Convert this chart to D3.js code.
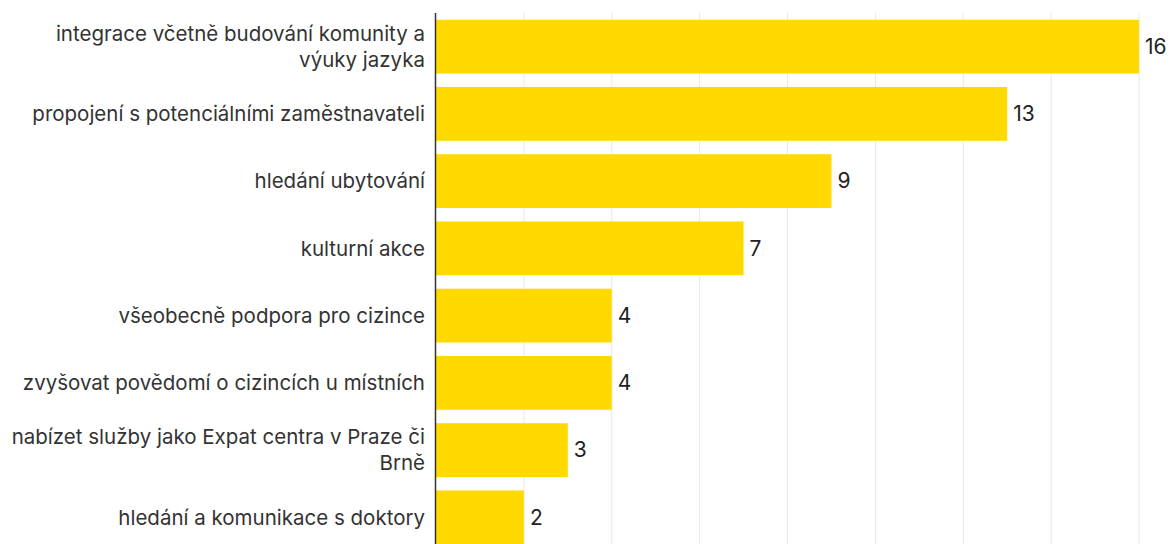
<!DOCTYPE html>
<html>
<head>
<meta charset="utf-8">
<script src="https://cdn.jsdelivr.net/npm/d3@7"></script>
<style>
  body { margin: 0; background: #fff; }
  #chart { display: block; }
  .label { font-family: Inter, sans-serif; font-size: 20.5px; fill: #333; }
  .val { font-family: Inter, sans-serif; font-size: 21px; fill: #222; }
</style>
</head>
<body>
<svg id="chart" width="1173" height="544"></svg>
<script>
var categories = [
  "integrace včetně budování komunity a výuky jazyka",
  "propojení s potenciálními zaměstnavateli",
  "hledání ubytování",
  "kulturní akce",
  "všeobecně podpora pro cizince",
  "zvyšovat povědomí o cizincích u místních",
  "nabízet služby jako Expat centra v Praze či Brně",
  "hledání a komunikace s doktory"
];
var values = [16, 13, 9, 7, 4, 4, 3, 2];
var gridTicks = [2, 4, 6, 8, 10, 12, 14, 16];

var svg = d3.select("#chart"),
    margin = {top: 13, right: 34, bottom: -7, left: 436},
    width = 1173 - margin.left - margin.right,
    height = 544 - margin.top - margin.bottom,
    g = svg.append("g").attr("transform", "translate(" + margin.left + "," + margin.top + ")");

var xScale = d3.scaleLinear().domain([0, 16]).range([0, width]);
var yScale = d3.scaleBand().domain(categories).range([0, height])
    .paddingInner(0.2).paddingOuter(0.1);

// grid lines
g.append("g").selectAll("line")
  .data(gridTicks)
  .enter().append("line")
    .attr("x1", function(d) { return xScale(d); })
    .attr("x2", function(d) { return xScale(d); })
    .attr("y1", 0)
    .attr("y2", height)
    .attr("stroke", "#e8e8e8")
    .attr("stroke-width", 1);

// bars
g.selectAll(".bar")
  .data(values)
  .enter().append("rect")
    .attr("class", "bar")
    .attr("x", xScale(0))
    .attr("y", function(d, i) { return yScale(categories[i]); })
    .attr("width", function(d) { return xScale(d) - xScale(0); })
    .attr("height", yScale.bandwidth())
    .attr("fill", "#ffd900");

// value labels
g.selectAll(".val")
  .data(values)
  .enter().append("text")
    .attr("class", "val")
    .attr("x", function(d) { return xScale(d) + 6; })
    .attr("y", function(d, i) { return yScale(categories[i]) + yScale.bandwidth() / 2; })
    .attr("dy", "0.35em")
    .text(function(d) { return d; });

// y axis line
g.append("line")
  .attr("x1", -0.5).attr("x2", -0.5)
  .attr("y1", 0).attr("y2", height)
  .attr("stroke", "#333")
  .attr("stroke-width", 1.5);

// category labels, wrapped
var labels = g.selectAll(".label")
  .data(categories)
  .enter().append("text")
    .attr("class", "label")
    .attr("text-anchor", "end")
    .attr("x", -11)
    .attr("y", function(d) { return yScale(d) + yScale.bandwidth() / 2; })
    .each(function(d) { wrap(d3.select(this), d, 424); });

function wrap(text, str, maxWidth) {
  var words = str.split(" "), lines = [], line = [];
  var tspan = text.append("tspan");
  words.forEach(function(w) {
    line.push(w);
    tspan.text(line.join(" "));
    if (tspan.node().getComputedTextLength() > maxWidth && line.length > 1) {
      line.pop();
      lines.push(line.join(" "));
      line = [w];
    }
  });
  lines.push(line.join(" "));
  tspan.remove();
  var lh = 26, y0 = +text.attr("y"), x0 = text.attr("x");
  lines.forEach(function(l, i) {
    text.append("tspan")
      .attr("x", x0)
      .attr("y", y0 + (i - (lines.length - 1) / 2) * lh)
      .attr("dy", "0.35em")
      .text(l);
  });
}
</script>
</body>
</html>
